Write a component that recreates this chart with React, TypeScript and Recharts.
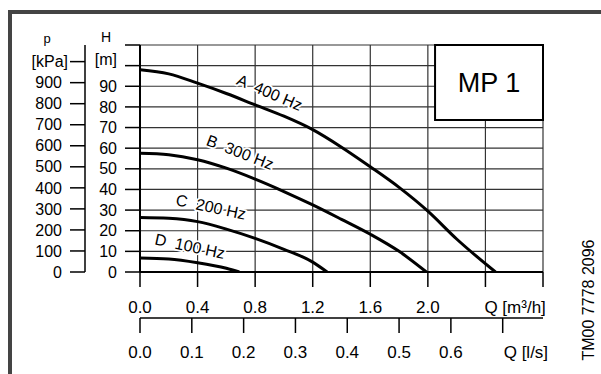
import { LineChart, Line, XAxis, YAxis, CartesianGrid, ReferenceArea, ReferenceDot } from 'recharts';

// pump curves, Q in m3/h, H in m
const curveA = [
  { q: 0, h: 98 }, { q: 0.2, h: 96 }, { q: 0.4, h: 91.5 }, { q: 0.6, h: 86.5 }, { q: 0.8, h: 81 },
  { q: 1.0, h: 75.5 }, { q: 1.2, h: 69 }, { q: 1.4, h: 60.5 }, { q: 1.6, h: 51 }, { q: 1.8, h: 41 },
  { q: 2.0, h: 29.5 }, { q: 2.2, h: 16 }, { q: 2.47, h: 0 },
];
const curveB = [
  { q: 0, h: 57.5 }, { q: 0.2, h: 56.8 }, { q: 0.4, h: 54.4 }, { q: 0.6, h: 50.3 }, { q: 0.8, h: 45 },
  { q: 1.0, h: 39 }, { q: 1.2, h: 32.5 }, { q: 1.4, h: 25.5 }, { q: 1.6, h: 18.3 }, { q: 1.8, h: 10 },
  { q: 1.99, h: 0 },
];
const curveC = [
  { q: 0, h: 26.4 }, { q: 0.2, h: 26 }, { q: 0.4, h: 24.4 }, { q: 0.6, h: 20.8 }, { q: 0.8, h: 16.3 },
  { q: 1.0, h: 11 }, { q: 1.2, h: 4.8 }, { q: 1.3, h: 0 },
];
const curveD = [
  { q: 0, h: 6.8 }, { q: 0.2, h: 6.3 }, { q: 0.4, h: 4.5 }, { q: 0.6, h: 1.8 }, { q: 0.69, h: 0 },
];

const curveLabels = [
  { q: 0.9, h: 87, text: 'A  400 Hz', angle: 23 },
  { q: 0.695, h: 58, text: 'B  300 Hz', angle: 21 },
  { q: 0.493, h: 31.5, text: 'C  200 Hz', angle: 12 },
  { q: 0.347, h: 12.5, text: 'D  100 Hz', angle: 12 },
];

const qTicks = [0, 0.4, 0.8, 1.2, 1.6, 2.0, 2.4, 2.8];
const lsTicks = [0, 0.1, 0.2, 0.3, 0.4, 0.5, 0.6, 0.7];
const hTicks = [0, 10, 20, 30, 40, 50, 60, 70, 80, 90, 100, 110];
const pTicks = [0, 100, 200, 300, 400, 500, 600, 700, 800, 900, 1000];

const FONT = "'Liberation Sans', Arial, sans-serif";

const HTick = ({ x, y, payload }: any) => {
  const v = payload.value;
  if (v === 110) return <text x={x - 11} y={y - 3} textAnchor="middle" fontSize={14} fontFamily={FONT}>H</text>;
  if (v === 100) return <text x={x} y={y - 6} dy="0.355em" textAnchor="end" fontSize={16} fontFamily={FONT}>[m]</text>;
  return <text x={x} y={y} dy="0.355em" textAnchor="end" fontSize={16} fontFamily={FONT}>{v}</text>;
};

const PTick = ({ x, y, payload }: any) => {
  const v = payload.value;
  if (v === 1000) {
    return (
      <g fontFamily={FONT}>
        <text x={x - 15} y={y - 23} dy="0.355em" textAnchor="middle" fontSize={13}>p</text>
        <text x={x + 6} y={y} dy="0.355em" textAnchor="end" fontSize={16}>[kPa]</text>
      </g>
    );
  }
  return <text x={x} y={y} dy="0.355em" textAnchor="end" fontSize={16} fontFamily={FONT}>{v}</text>;
};

const QTick = ({ x, y, payload }: any) => {
  const v = payload.value;
  if (v === 2.8) return null;
  if (v === 2.4) return <text x={x - 1} y={y} dy="0.71em" textAnchor="start" fontSize={17} fontFamily={FONT}>Q [m³/h]</text>;
  return <text x={x} y={y} dy="0.71em" textAnchor="middle" fontSize={17} fontFamily={FONT}>{v.toFixed(1)}</text>;
};

const LsTick = ({ x, y, payload }: any) => {
  const v = payload.value;
  if (v === 0.7) return <text x={x + 1} y={y} dy="0.71em" textAnchor="start" fontSize={17} fontFamily={FONT}>Q [l/s]</text>;
  return <text x={x} y={y} dy="0.71em" textAnchor="middle" fontSize={17} fontFamily={FONT}>{v.toFixed(1)}</text>;
};

const curveLabel = (text: string, angle: number) => (props: any) => {
  const vb = props.viewBox;
  const cx = vb.x + vb.width / 2;
  const cy = vb.y + vb.height / 2;
  return (
    <text x={cx} y={cy} transform={`rotate(${angle} ${cx} ${cy})`} textAnchor="middle" dominantBaseline="central"
      fontSize={16} fontFamily={FONT} fill="#000" stroke="#fff" strokeWidth={3.5} strokeLinejoin="round"
      paintOrder="stroke" style={{ whiteSpace: 'pre' }}>
      {text}
    </text>
  );
};

const PumpCurves = () => (
  <div style={{ position: 'absolute', left: 0, top: 0, width: 601, height: 374, background: '#fff', overflow: 'hidden' }}>
    <div style={{ position: 'absolute', left: 8, top: 10, width: 620, height: 400, borderTop: '4px solid #444', borderLeft: '4px solid #444' }} />
    <LineChart width={601} height={374} margin={{ top: 45, right: 58, left: 0, bottom: 0 }} style={{ position: 'absolute', left: 0, top: 0 }}>
      <CartesianGrid xAxisId="q" yAxisId="h" stroke="#333" strokeWidth={1.2} />
      <XAxis xAxisId="q" dataKey="q" type="number" domain={[0, 2.8]} ticks={qTicks} allowDataOverflow
        height={46} tickSize={15} tickMargin={14} tick={<QTick />} interval={0}
        axisLine={{ stroke: '#000', strokeWidth: 2 }} tickLine={{ stroke: '#000', strokeWidth: 1.5 }} />
      <XAxis xAxisId="qs" dataKey="qs" type="number" domain={[0, 2.8 / 3.6]} ticks={lsTicks} allowDataOverflow
        height={56} tickSize={15} tickMargin={13} tick={<LsTick />} interval={0}
        axisLine={{ stroke: '#000', strokeWidth: 1.5 }} tickLine={{ stroke: '#000', strokeWidth: 1.5 }} />
      <YAxis yAxisId="h" type="number" domain={[0, 110]} ticks={hTicks} allowDataOverflow
        width={55} tickSize={15} tickMargin={8} tick={<HTick />} interval={0}
        axisLine={{ stroke: '#000', strokeWidth: 2 }} tickLine={{ stroke: '#000', strokeWidth: 1.5 }} />
      <YAxis yAxisId="p" type="number" domain={[0, 1079]} ticks={pTicks} allowDataOverflow
        width={85} tickSize={15} tickMargin={8} tick={<PTick />} interval={0}
        axisLine={{ stroke: '#000', strokeWidth: 1.5 }} tickLine={{ stroke: '#000', strokeWidth: 1.5 }} />
      <ReferenceArea xAxisId="q" yAxisId="h" x1={2.05} x2={2.8} y1={73.6} y2={110} fill="#fff" fillOpacity={1}
        stroke="#000" strokeWidth={2}
        label={{ value: 'MP  1', position: 'center', fontSize: 27, fill: '#000', fontFamily: FONT, style: { whiteSpace: 'pre' } }} />
      {curveLabels.map((l) => (
        <ReferenceDot key={l.text} xAxisId="q" yAxisId="h" x={l.q} y={l.h} r={1} fill="none" stroke="none"
          label={{ content: curveLabel(l.text, l.angle) }} />
      ))}
      <Line xAxisId="q" yAxisId="h" data={curveA} dataKey="h" type="monotone" stroke="#000" strokeWidth={3} dot={false} isAnimationActive={false} />
      <Line xAxisId="q" yAxisId="h" data={curveB} dataKey="h" type="monotone" stroke="#000" strokeWidth={3} dot={false} isAnimationActive={false} />
      <Line xAxisId="q" yAxisId="h" data={curveC} dataKey="h" type="monotone" stroke="#000" strokeWidth={3} dot={false} isAnimationActive={false} />
      <Line xAxisId="q" yAxisId="h" data={curveD} dataKey="h" type="monotone" stroke="#000" strokeWidth={3} dot={false} isAnimationActive={false} />
    </LineChart>
    <div style={{ position: 'absolute', left: 589, top: 300, transform: 'translate(-50%, -50%) rotate(-90deg)', fontFamily: FONT, fontSize: 16, whiteSpace: 'nowrap', color: '#000' }}>
      TM00 7778 2096
    </div>
  </div>
);

export default PumpCurves;
